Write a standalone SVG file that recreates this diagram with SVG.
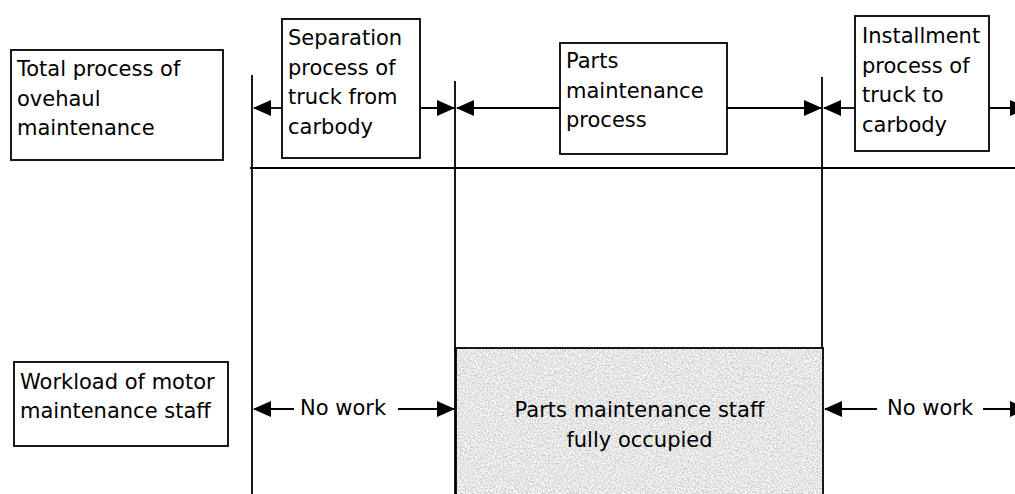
<svg xmlns="http://www.w3.org/2000/svg" width="1015" height="494" viewBox="0 0 1015 494">
  <style>
    .box { fill: #ffffff; stroke: #000000; stroke-width: 1.8; }
    .rule { stroke: #000000; stroke-width: 1.8; fill: none; }
    .arrow { stroke: #000000; stroke-width: 1.8; fill: none; marker-end: url(#head); }
    .label { font-family: "DejaVu Sans", "Liberation Sans", sans-serif; font-size: 21px; fill: #000000; }
    .mid { text-anchor: middle; }
  </style>
  <defs>
    <marker id="head" markerUnits="userSpaceOnUse" markerWidth="18" markerHeight="16" viewBox="0 0 18 16" refX="17" refY="8" orient="auto">
      <path d="M0,0 L18,8 L0,16 Z" fill="#000000"/>
    </marker>
    <!-- speckled light-grey fill for the busy period -->
    <filter id="grain" x="0" y="0" width="100%" height="100%" color-interpolation-filters="sRGB">
      <feTurbulence type="fractalNoise" baseFrequency="0.6" numOctaves="3" seed="7" result="noise"/>
      <feColorMatrix in="noise" type="matrix" values="0.42 0 0 0 0.69  0.42 0 0 0 0.69  0.42 0 0 0 0.69  0 0 0 0 1"/>
    </filter>
  </defs>

  <!-- timeline frame -->
  <g id="connectors">
    <line class="rule" x1="252" y1="75" x2="252" y2="494"/>
    <line class="rule" x1="455" y1="81" x2="455" y2="494"/>
    <line class="rule" x1="822" y1="77" x2="822" y2="348"/>
    <line class="rule" x1="250" y1="168" x2="1015" y2="168"/>

    <!-- process spans -->
    <line class="arrow" x1="282" y1="108" x2="254" y2="108"/>
    <line class="arrow" x1="420" y1="108" x2="454" y2="108"/>
    <line class="arrow" x1="560" y1="108" x2="457" y2="108"/>
    <line class="arrow" x1="727" y1="108" x2="821" y2="108"/>
    <line class="arrow" x1="855" y1="108" x2="824" y2="108"/>
    <line class="arrow" x1="989" y1="108" x2="1027" y2="108"/>

    <!-- idle spans -->
    <line class="arrow" x1="294" y1="409" x2="254" y2="409"/>
    <line class="arrow" x1="398" y1="409" x2="454" y2="409"/>
    <line class="arrow" x1="877" y1="409" x2="825" y2="409"/>
    <line class="arrow" x1="983" y1="409" x2="1027" y2="409"/>
  </g>

  <g id="total-process">
    <rect class="box" x="11" y="50" width="212" height="110"/>
    <text class="label" x="17" y="76">Total process of</text>
    <text class="label" x="17" y="105.5">ovehaul</text>
    <text class="label" x="17" y="135">maintenance</text>
  </g>

  <g id="separation">
    <rect class="box" x="282" y="19" width="138" height="139"/>
    <text class="label" x="288" y="45">Separation</text>
    <text class="label" x="288" y="74.5">process of</text>
    <text class="label" x="288" y="104">truck from</text>
    <text class="label" x="288" y="133.5">carbody</text>
  </g>

  <g id="parts-maintenance">
    <rect class="box" x="560" y="43" width="167" height="111"/>
    <text class="label" x="566" y="68">Parts</text>
    <text class="label" x="566" y="97.5">maintenance</text>
    <text class="label" x="566" y="127">process</text>
  </g>

  <g id="installment">
    <rect class="box" x="855" y="16" width="134" height="135"/>
    <text class="label" x="862" y="43">Installment</text>
    <text class="label" x="862" y="72.5">process of</text>
    <text class="label" x="862" y="102">truck to</text>
    <text class="label" x="862" y="131.5">carbody</text>
  </g>

  <g id="workload">
    <rect class="box" x="14" y="362" width="214" height="84"/>
    <text class="label" x="20" y="389">Workload of motor</text>
    <text class="label" x="20" y="418">maintenance staff</text>
  </g>

  <g id="no-work-before">
    <text class="label" x="300" y="415">No work</text>
  </g>

  <g id="fully-occupied">
    <rect x="456" y="348" width="367" height="150" fill="#e2e2e2" filter="url(#grain)"/>
    <rect x="456" y="348" width="367" height="150" fill="none" stroke="#000000" stroke-width="1.8"/>
    <text class="label mid" x="639.5" y="417">Parts maintenance staff</text>
    <text class="label mid" x="639.5" y="447">fully occupied</text>
  </g>

  <g id="no-work-after">
    <text class="label" x="887" y="415">No work</text>
  </g>
</svg>
